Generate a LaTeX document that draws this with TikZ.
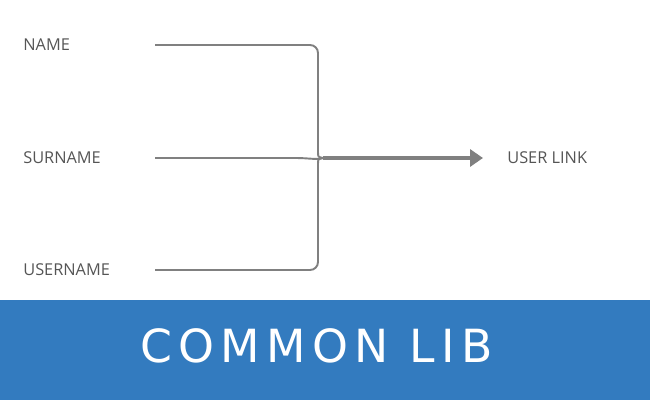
\documentclass[tikz,border=0pt]{standalone}
\usepackage{fontspec}
\setmainfont{Open Sans}
\newfontfamily\titlefont[LetterSpace=14]{DejaVu Sans}
\usetikzlibrary{arrows.meta}
\definecolor{linegray}{RGB}{128,128,128}
\definecolor{textgray}{RGB}{85,85,85}
\definecolor{bandblue}{RGB}{51,123,191}
\begin{document}
\begin{tikzpicture}[
  label/.style={anchor=west, text=textgray, font=\fontsize{9.3}{11}\selectfont, inner sep=0pt},
  wire/.style={draw=linegray, line width=1.1pt, rounded corners=0.16cm}
]
\useasboundingbox (0,0) rectangle (13,-8);
\fill[bandblue] (0,-6) rectangle (13,-8);
\node[label] (name) at (0.46,-0.9) {NAME};
\node[label] (surname) at (0.46,-3.16) {SURNAME};
\node[label] (username) at (0.46,-5.4) {USERNAME};
\node[label] (userlink) at (10.14,-3.16) {USER LINK};
\node[text=white, font=\titlefont\fontsize{26}{30}\selectfont] (title) at (6.33,-6.92) {COMMON LIB};
\coordinate (namestart) at (3.1,-0.9);
\coordinate (surnamestart) at (3.1,-3.16);
\coordinate (usernamestart) at (3.1,-5.4);
\coordinate (join) at (6.46,-3.16);
\coordinate (tip) at (9.66,-3.16);
\draw[wire] (namestart) -- (6.36,-0.9) -- (6.36,-2.9);
\draw[linegray, line width=1.1pt] (6.36,-2.9) -- (6.36,-3.04) .. controls (6.36,-3.14) .. (join);
\draw[wire] (usernamestart) -- (6.36,-5.4) -- (6.36,-3.42);
\draw[linegray, line width=1.1pt] (6.36,-3.42) -- (6.36,-3.28) .. controls (6.36,-3.18) .. (join);
\draw[linegray, line width=1.1pt] (surnamestart) -- (5.9,-3.16) .. controls (6.2,-3.16) and (6.3,-3.2) .. (join);
\draw[linegray, line width=2.8pt, -{Triangle[length=0.26cm, width=0.34cm]}] (join) -- (tip);
\end{tikzpicture}
\end{document}
